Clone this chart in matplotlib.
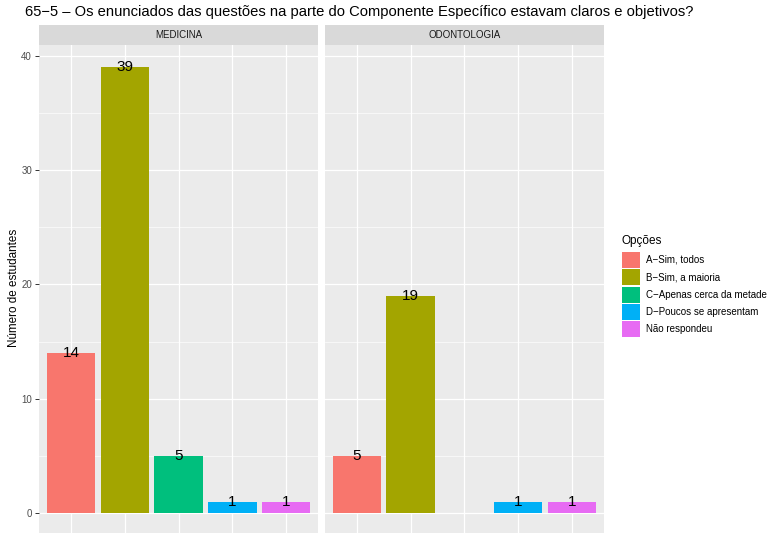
import matplotlib
matplotlib.use("Agg")
import matplotlib.pyplot as plt
from matplotlib.patches import Rectangle
import numpy as np

plt.rcParams['font.family'] = ['Liberation Sans', 'DejaVu Sans']

title = "65\u22125 \u2013 Os enunciados das quest\u00f5es na parte do Componente Espec\u00edfico estavam claros e objetivos?"
categories = ["A\u2212Sim, todos", "B\u2212Sim, a maioria", "C\u2212Apenas cerca da metade",
              "D\u2212Poucos se apresentam", "N\u00e3o respondeu"]
colors = ["#F8766D", "#A3A500", "#00BF7D", "#00B0F6", "#E76BF3"]
panels = ["MEDICINA", "ODONTOLOGIA"]
medicina = [14, 39, 5, 1, 1]
odontologia = [5, 19, None, 1, 1]
values = [medicina, odontologia]
yticks = [0, 10, 20, 30, 40]
minor_ticks = [5, 15, 25, 35]
ylabel = "N\u00famero de estudantes"
legend_title = "Op\u00e7\u00f5es"

W, H = 767, 533
fig = plt.figure(figsize=(W / 100, H / 100), dpi=100)

def fx(px):
    return px / W

def fy(py):
    return 1 - py / H

panel_x = [(39, 318.3), (324.5, 604)]
top_px, bot_px = 45, 535
strip_top = 24.7
ylim = (-1.93, 40.96)

for i, (x0, x1) in enumerate(panel_x):
    ax = fig.add_axes([fx(x0), fy(bot_px), fx(x1 - x0), (bot_px - top_px) / H])
    ax.set_facecolor("#EBEBEB")
    ax.set_xlim(0.4, 5.6)
    ax.set_ylim(*ylim)
    for s in ax.spines.values():
        s.set_visible(False)
    for m in minor_ticks:
        ax.axhline(m, color="white", lw=0.45, zorder=0.5)
    for t in yticks:
        ax.axhline(t, color="white", lw=0.9, zorder=0.6)
    for k in range(len(categories)):
        ax.axvline(k + 1, color="white", lw=0.9, zorder=0.6)
    for k, (v, c) in enumerate(zip(values[i], colors)):
        if v is None:
            continue
        ax.bar(k + 1, v, width=0.9, color=c, zorder=2)
        ax.text(k + 1, v, str(v), ha="center", va="center", fontsize=11, color="black", zorder=3)
    ax.set_xticks([])
    if i == 0:
        ax.set_yticks(yticks)
        ax.set_yticklabels([str(t) for t in yticks], fontsize=7, color="#4D4D4D")
        ax.tick_params(axis="y", length=3, width=0.7, color="#333333", pad=2)
    else:
        ax.set_yticks([])
    # strip
    sax = fig.add_axes([fx(x0), fy(top_px), fx(x1 - x0), (top_px - strip_top) / H])
    sax.set_facecolor("#D9D9D9")
    sax.set_xticks([]); sax.set_yticks([])
    for s in sax.spines.values():
        s.set_visible(False)
    sax.text(0.5, 0.5, panels[i], ha="center", va="center", fontsize=7, color="#1A1A1A",
             transform=sax.transAxes)

fig.text(fx(25), fy(12), title, ha="left", va="center", fontsize=10.65, color="black")
fig.text(fx(14), fy((top_px + bot_px) / 2 - 2), ylabel, rotation=90, ha="center", va="center",
         fontsize=8.4, color="black")

# legend
fig.text(fx(621), fy(241), legend_title, ha="left", va="center", fontsize=8.5, color="black")
key_h = 17.3
key_top = 251.3
for k, (lab, c) in enumerate(zip(categories, colors)):
    yt = key_top + k * key_h
    fig.patches.append(Rectangle((fx(622), fy(yt + key_h - 0.6)), fx(17.6), (key_h - 1.2) / H,
                                 transform=fig.transFigure, facecolor=c, edgecolor="none"))
    fig.text(fx(646), fy(yt + key_h / 2), lab, ha="left", va="center", fontsize=7, color="black")

fig.savefig("out.png", dpi=100)
